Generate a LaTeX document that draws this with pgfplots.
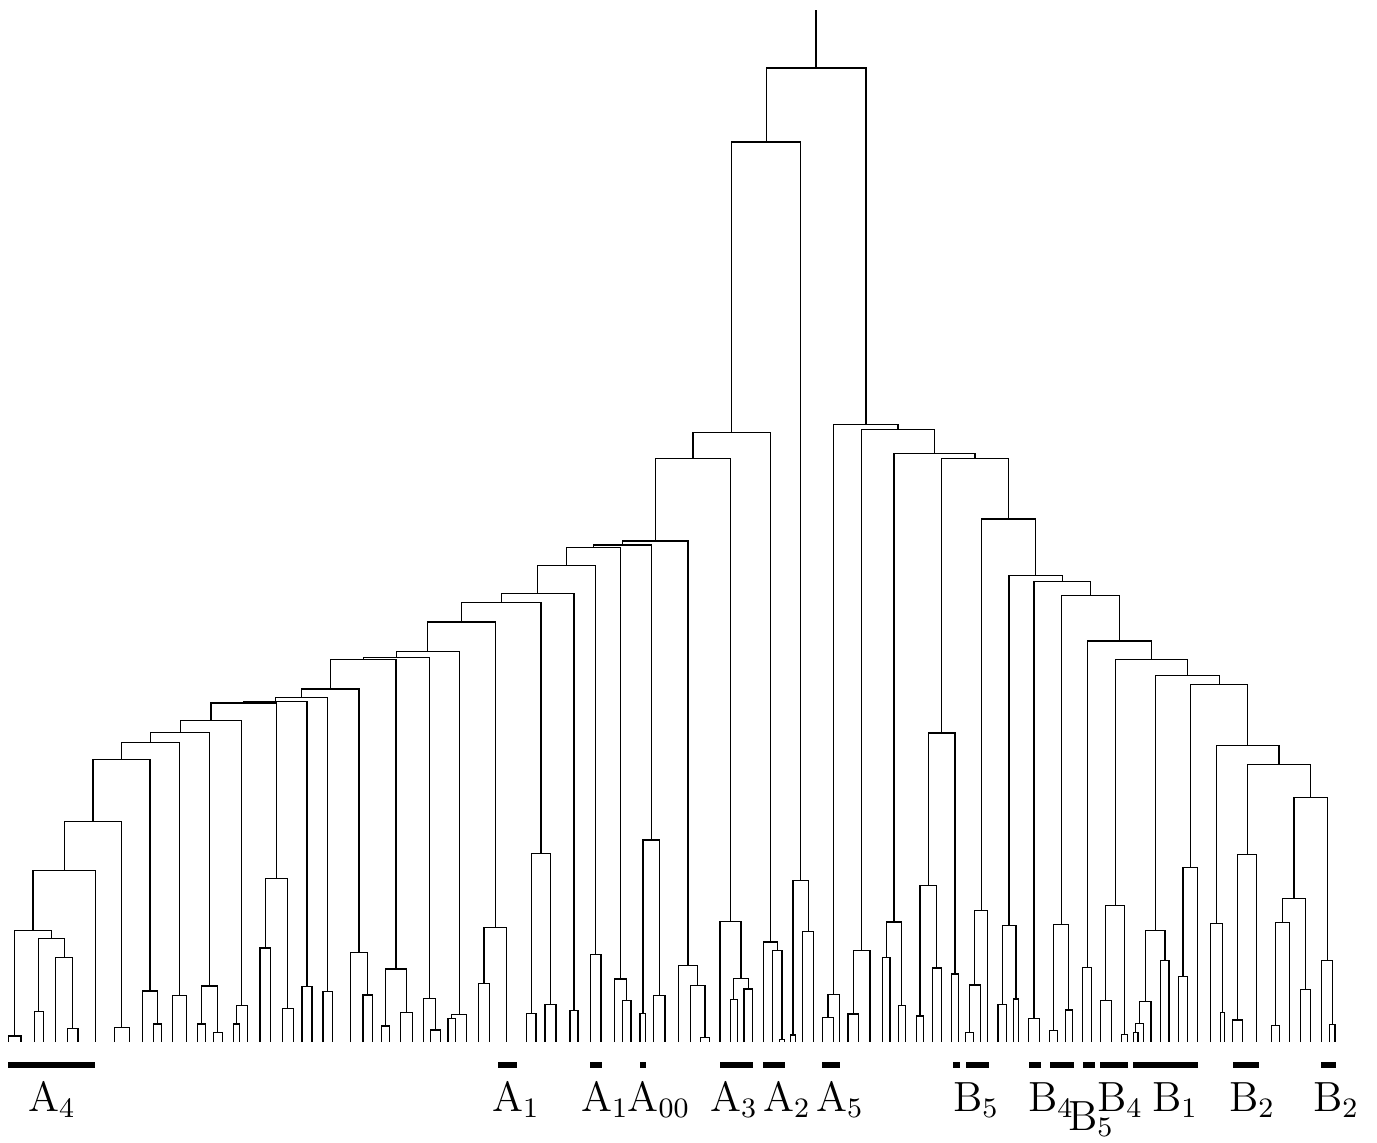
\documentclass[border=0pt]{standalone}
\usepackage{pgfplots}
\pgfplotsset{compat=1.18}
\begin{document}
\begin{tikzpicture}
\begin{axis}[
    scale only axis,
    width=13.77cm,
    height=11.42cm,
    xmin=0, xmax=1377,
    ymin=0, ymax=1142,
    y dir=reverse,
    hide axis,
    clip=false,
    unbounded coords=jump,
]
\path (rel axis cs:0,0) rectangle (rel axis cs:1,1);
% dendrogram links: (xL,yL) (xL,H) (xR,H) (xR,yR), in pixel units, y downward
\addplot[black, line width=0.35pt, mark=none] coordinates {
(8.3,1042) (8.3,1036) (21.1,1036) (21.1,1042) (nan,nan)
(34.3,1042) (34.3,1011.7) (43.3,1011.7) (43.3,1042) (nan,nan)
(67.7,1042) (67.7,1028.3) (77.9,1028.3) (77.9,1042) (nan,nan)
(55.8,1042) (55.8,957.3) (72.8,957.3) (72.8,1028.3) (nan,nan)
(38.8,1011.7) (38.8,938.3) (64.3,938.3) (64.3,957.3) (nan,nan)
(14.7,1036) (14.7,930.7) (51.55,930.7) (51.55,938.3) (nan,nan)
(33.1,930.7) (33.1,870.3) (95.3,870.3) (95.3,1042) (nan,nan)
(114.3,1042) (114.3,1027.7) (129.3,1027.7) (129.3,1042) (nan,nan)
(64.2,870.3) (64.2,821.3) (121.8,821.3) (121.8,1027.7) (nan,nan)
(153.3,1042) (153.3,1024) (161.3,1024) (161.3,1042) (nan,nan)
(142.7,1042) (142.7,991) (157.3,991) (157.3,1024) (nan,nan)
(93,821.3) (93,759.7) (150,759.7) (150,991) (nan,nan)
(172.7,1042) (172.7,995.3) (186.7,995.3) (186.7,1042) (nan,nan)
(121.5,759.7) (121.5,742.3) (179.7,742.3) (179.7,995.3) (nan,nan)
(197.7,1042) (197.7,1024) (205.3,1024) (205.3,1042) (nan,nan)
(213.3,1042) (213.3,1032.7) (222.3,1032.7) (222.3,1042) (nan,nan)
(201.5,1024) (201.5,986) (217.8,986) (217.8,1032.7) (nan,nan)
(150.6,742.3) (150.6,732.7) (209.7,732.7) (209.7,986) (nan,nan)
(233.3,1042) (233.3,1024) (239.3,1024) (239.3,1042) (nan,nan)
(236.3,1024) (236.3,1005.7) (247.3,1005.7) (247.3,1042) (nan,nan)
(180.2,732.7) (180.2,720.3) (241.8,720.3) (241.8,1005.7) (nan,nan)
(260,1042) (260,948) (270.3,948) (270.3,1042) (nan,nan)
(282.3,1042) (282.3,1008.7) (293.3,1008.7) (293.3,1042) (nan,nan)
(265.2,948) (265.2,878.7) (287.8,878.7) (287.8,1008.7) (nan,nan)
(211,720.3) (211,703) (276.5,703) (276.5,878.7) (nan,nan)
(302,1042) (302,986.7) (312,986.7) (312,1042) (nan,nan)
(243.8,703) (243.8,701.5) (307,701.5) (307,986.7) (nan,nan)
(323,1042) (323,991.7) (332.3,991.7) (332.3,1042) (nan,nan)
(275.4,701.5) (275.4,697.7) (327.7,697.7) (327.7,991.7) (nan,nan)
(363,1042) (363,995) (372.3,995) (372.3,1042) (nan,nan)
(350.3,1042) (350.3,952.3) (367.7,952.3) (367.7,995) (nan,nan)
(301.6,697.7) (301.6,689) (359,689) (359,952.3) (nan,nan)
(381.3,1042) (381.3,1026) (389.7,1026) (389.7,1042) (nan,nan)
(400.7,1042) (400.7,1012.3) (412.3,1012.3) (412.3,1042) (nan,nan)
(385.5,1026) (385.5,969) (406.5,969) (406.5,1012.3) (nan,nan)
(330.3,689) (330.3,659.3) (396,659.3) (396,969) (nan,nan)
(430.3,1042) (430.3,1030) (440.3,1030) (440.3,1042) (nan,nan)
(423.3,1042) (423.3,998.3) (435.3,998.3) (435.3,1030) (nan,nan)
(363.2,659.3) (363.2,657.3) (429.3,657.3) (429.3,998.3) (nan,nan)
(448,1042) (448,1018.7) (455.3,1018.7) (455.3,1042) (nan,nan)
(451.7,1018.7) (451.7,1014.3) (466.7,1014.3) (466.7,1042) (nan,nan)
(396.3,657.3) (396.3,651.7) (459.2,651.7) (459.2,1014.3) (nan,nan)
(478.3,1042) (478.3,983.6) (489.7,983.6) (489.7,1042) (nan,nan)
(484,983.6) (484,927.8) (506.7,927.8) (506.7,1042) (nan,nan)
(427.8,651.7) (427.8,622) (495.4,622) (495.4,927.8) (nan,nan)
(526.7,1042) (526.7,1013.7) (536,1013.7) (536,1042) (nan,nan)
(545,1042) (545,1004.2) (556,1004.2) (556,1042) (nan,nan)
(531.4,1013.7) (531.4,853.2) (550.5,853.2) (550.5,1004.2) (nan,nan)
(461.6,622) (461.6,602.1) (541,602.1) (541,853.2) (nan,nan)
(570,1042) (570,1010.3) (578,1010.3) (578,1042) (nan,nan)
(501.3,602.1) (501.3,593.3) (574,593.3) (574,1010.3) (nan,nan)
(590.3,1042) (590.3,954.5) (601,954.5) (601,1042) (nan,nan)
(537.7,593.3) (537.7,565.6) (595.7,565.6) (595.7,954.5) (nan,nan)
(622.3,1042) (622.3,1000.5) (631,1000.5) (631,1042) (nan,nan)
(614.3,1042) (614.3,978.9) (626.7,978.9) (626.7,1000.5) (nan,nan)
(566.7,565.6) (566.7,547.4) (620.5,547.4) (620.5,978.9) (nan,nan)
(640,1042) (640,1013.3) (645.7,1013.3) (645.7,1042) (nan,nan)
(653.7,1042) (653.7,995.1) (665,995.1) (665,1042) (nan,nan)
(642.9,1013.3) (642.9,840) (659.4,840) (659.4,995.1) (nan,nan)
(593.6,547.4) (593.6,545) (651.2,545) (651.2,840) (nan,nan)
(700.7,1042) (700.7,1037.8) (709.3,1037.8) (709.3,1042) (nan,nan)
(690.3,1042) (690.3,985.3) (705,985.3) (705,1037.8) (nan,nan)
(678.3,1042) (678.3,965.2) (697.7,965.2) (697.7,985.3) (nan,nan)
(622.4,545) (622.4,541) (688,541) (688,965.2) (nan,nan)
(730.3,1042) (730.3,999.4) (737.3,999.4) (737.3,1042) (nan,nan)
(744,1042) (744,989) (752.3,989) (752.3,1042) (nan,nan)
(733.8,999.4) (733.8,978.3) (748.2,978.3) (748.2,989) (nan,nan)
(720,1042) (720,921.6) (741,921.6) (741,978.3) (nan,nan)
(655.2,541) (655.2,458.5) (730.5,458.5) (730.5,921.6) (nan,nan)
(779.3,1042) (779.3,1039.5) (784.7,1039.5) (784.7,1042) (nan,nan)
(772.7,1042) (772.7,950.1) (782,950.1) (782,1039.5) (nan,nan)
(763.3,1042) (763.3,941.9) (777.4,941.9) (777.4,950.1) (nan,nan)
(692.9,458.5) (692.9,432.1) (770.4,432.1) (770.4,941.9) (nan,nan)
(790.3,1042) (790.3,1035) (795.7,1035) (795.7,1042) (nan,nan)
(802.7,1042) (802.7,931.1) (813.7,931.1) (813.7,1042) (nan,nan)
(793,1035) (793,880.6) (808.2,880.6) (808.2,931.1) (nan,nan)
(731.7,432.1) (731.7,142) (800.6,142) (800.6,880.6) (nan,nan)
(822.7,1042) (822.7,1017.2) (833.3,1017.2) (833.3,1042) (nan,nan)
(828,1017.2) (828,994.4) (839.3,994.4) (839.3,1042) (nan,nan)
(848,1042) (848,1013.9) (858.3,1013.9) (858.3,1042) (nan,nan)
(853.2,1013.9) (853.2,950.5) (870,950.5) (870,1042) (nan,nan)
(882.3,1042) (882.3,957.6) (890,957.6) (890,1042) (nan,nan)
(898.3,1042) (898.3,1005.6) (905.3,1005.6) (905.3,1042) (nan,nan)
(886.2,957.6) (886.2,922) (901.8,922) (901.8,1005.6) (nan,nan)
(916.7,1042) (916.7,1016) (923.3,1016) (923.3,1042) (nan,nan)
(932.3,1042) (932.3,968) (941.3,968) (941.3,1042) (nan,nan)
(920,1016) (920,885.6) (936.8,885.6) (936.8,968) (nan,nan)
(951.7,1042) (951.7,974) (958.3,974) (958.3,1042) (nan,nan)
(928.4,885.6) (928.4,732.9) (955,732.9) (955,974) (nan,nan)
(965.3,1042) (965.3,1032.5) (973.3,1032.5) (973.3,1042) (nan,nan)
(969.3,1032.5) (969.3,984.9) (980.3,984.9) (980.3,1042) (nan,nan)
(974.8,984.9) (974.8,910.4) (987.7,910.4) (987.7,1042) (nan,nan)
(998,1042) (998,1004.3) (1006.3,1004.3) (1006.3,1042) (nan,nan)
(1013.3,1042) (1013.3,999) (1018.7,999) (1018.7,1042) (nan,nan)
(1002.2,1004.3) (1002.2,925.3) (1016,925.3) (1016,999) (nan,nan)
(1028.7,1042) (1028.7,1018.8) (1039.3,1018.8) (1039.3,1042) (nan,nan)
(1049.7,1042) (1049.7,1030.8) (1057.3,1030.8) (1057.3,1042) (nan,nan)
(1065.3,1042) (1065.3,1010) (1072.3,1010) (1072.3,1042) (nan,nan)
(1053.5,1030.8) (1053.5,924.5) (1068.8,924.5) (1068.8,1010) (nan,nan)
(1082.7,1042) (1082.7,967.1) (1091.7,967.1) (1091.7,1042) (nan,nan)
(1100.3,1042) (1100.3,1000.2) (1111.3,1000.2) (1111.3,1042) (nan,nan)
(1121.3,1042) (1121.3,1034.5) (1127.3,1034.5) (1127.3,1042) (nan,nan)
(1105.8,1000.2) (1105.8,905.8) (1124.3,905.8) (1124.3,1034.5) (nan,nan)
(1133.3,1042) (1133.3,1032.5) (1138,1032.5) (1138,1042) (nan,nan)
(1135.7,1032.5) (1135.7,1023.8) (1143.3,1023.8) (1143.3,1042) (nan,nan)
(1139.5,1023.8) (1139.5,1001.7) (1151,1001.7) (1151,1042) (nan,nan)
(1160.7,1042) (1160.7,960.7) (1169,960.7) (1169,1042) (nan,nan)
(1145.3,1001.7) (1145.3,930.2) (1164.9,930.2) (1164.9,960.7) (nan,nan)
(1178.7,1042) (1178.7,976.7) (1187.3,976.7) (1187.3,1042) (nan,nan)
(1183,976.7) (1183,867.3) (1197.7,867.3) (1197.7,1042) (nan,nan)
(1220.7,1042) (1220.7,1012.7) (1224.7,1012.7) (1224.7,1042) (nan,nan)
(1210.7,1042) (1210.7,923.7) (1222.7,923.7) (1222.7,1012.7) (nan,nan)
(1232.7,1042) (1232.7,1020) (1242.7,1020) (1242.7,1042) (nan,nan)
(1237.7,1020) (1237.7,854.3) (1256.7,854.3) (1256.7,1042) (nan,nan)
(1271.7,1042) (1271.7,1025.7) (1279.7,1025.7) (1279.7,1042) (nan,nan)
(1275.7,1025.7) (1275.7,922.3) (1289.3,922.3) (1289.3,1042) (nan,nan)
(1300.3,1042) (1300.3,989.7) (1310.3,989.7) (1310.3,1042) (nan,nan)
(1282.5,922.3) (1282.5,898.3) (1305.3,898.3) (1305.3,989.7) (nan,nan)
(1329.7,1042) (1329.7,1024.7) (1335,1024.7) (1335,1042) (nan,nan)
(1321.7,1042) (1321.7,960.3) (1332.4,960.3) (1332.4,1024.7) (nan,nan)
(1293.9,898.3) (1293.9,797.7) (1327.1,797.7) (1327.1,960.3) (nan,nan)
(1247.2,854.3) (1247.2,764.3) (1310.5,764.3) (1310.5,797.7) (nan,nan)
(1216.7,923.7) (1216.7,745.7) (1278.9,745.7) (1278.9,764.3) (nan,nan)
(1190.4,867.3) (1190.4,684.3) (1247.8,684.3) (1247.8,745.7) (nan,nan)
(1155.1,930.2) (1155.1,675.3) (1219.1,675.3) (1219.1,684.3) (nan,nan)
(1115.1,905.8) (1115.1,659.5) (1187.1,659.5) (1187.1,675.3) (nan,nan)
(1087.2,967.1) (1087.2,641) (1151.1,641) (1151.1,659.5) (nan,nan)
(1061.2,924.5) (1061.2,595.5) (1119.2,595.5) (1119.2,641) (nan,nan)
(1034,1018.8) (1034,581.8) (1090.2,581.8) (1090.2,595.5) (nan,nan)
(1009.1,925.3) (1009.1,575.6) (1062.1,575.6) (1062.1,581.8) (nan,nan)
(981.3,910.4) (981.3,519) (1035.6,519) (1035.6,575.6) (nan,nan)
(941.7,732.9) (941.7,458.5) (1008.5,458.5) (1008.5,519) (nan,nan)
(894,922) (894,453.6) (975.1,453.6) (975.1,458.5) (nan,nan)
(861.6,950.5) (861.6,429.2) (934.6,429.2) (934.6,453.6) (nan,nan)
(833.7,994.4) (833.7,424.2) (898.1,424.2) (898.1,429.2) (nan,nan)
(766.2,142) (766.2,68) (865.9,68) (865.9,424.2) (nan,nan)
(816,68) (816,10)
};
% cluster bars
\addplot[black, line width=1.8pt, mark=none] coordinates {
(8,1065) (95,1065) (nan,nan)
(498,1065) (517,1065) (nan,nan)
(590,1065) (602,1065) (nan,nan)
(640,1065) (646,1065) (nan,nan)
(720,1065) (753,1065) (nan,nan)
(763,1065) (785,1065) (nan,nan)
(822,1065) (840,1065) (nan,nan)
(953,1065) (960,1065) (nan,nan)
(966,1065) (989,1065) (nan,nan)
(1029,1065) (1041,1065) (nan,nan)
(1050,1065) (1074,1065) (nan,nan)
(1083,1065) (1095,1065) (nan,nan)
(1100,1065) (1128,1065) (nan,nan)
(1133,1065) (1198,1065) (nan,nan)
(1233,1065) (1259,1065) (nan,nan)
(1321,1065) (1336,1065)
};
\begin{scope}[every node/.style={anchor=base, inner sep=0pt, font=\fontsize{12}{14}\selectfont}]
\node at (axis cs:52,1111) {A$_4$};
\node at (axis cs:516,1111) {A$_1$};
\node at (axis cs:605,1111) {A$_1$};
\node at (axis cs:659,1111) {A$_{00}$};
\node at (axis cs:734,1111) {A$_3$};
\node at (axis cs:787,1111) {A$_2$};
\node at (axis cs:840,1111) {A$_5$};
\node at (axis cs:976,1111) {B$_5$};
\node at (axis cs:1051,1111) {B$_4$};
\node at (axis cs:1091,1130) {B$_5$};
\node at (axis cs:1120,1111) {B$_4$};
\node at (axis cs:1175,1111) {B$_1$};
\node at (axis cs:1252,1111) {B$_2$};
\node at (axis cs:1336,1111) {B$_2$};
\end{scope}
\end{axis}
\end{tikzpicture}
\end{document}
